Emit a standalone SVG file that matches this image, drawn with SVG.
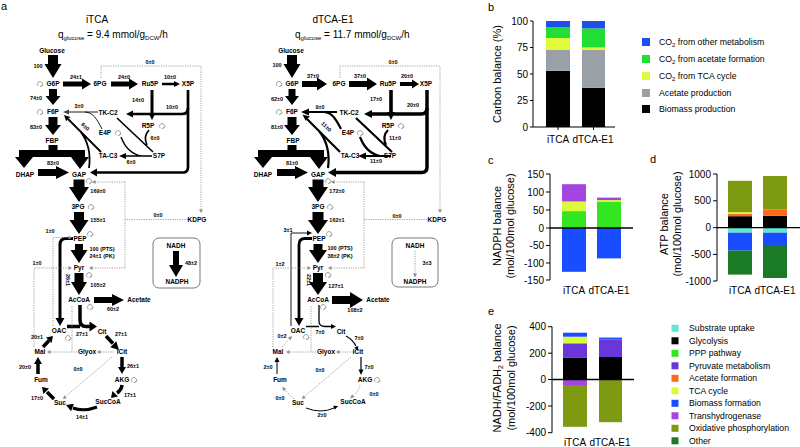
<svg xmlns="http://www.w3.org/2000/svg" width="800" height="447" viewBox="0 0 800 447">
<style>
text{font-family:"Liberation Sans",Arial,sans-serif;fill:#000}
.m{font-size:6.5px;font-weight:bold;text-anchor:middle}
.n{font-size:5.5px;font-weight:bold;text-anchor:middle}
.ttl{font-size:10px}
.k{fill:#000}
.ln{fill:none;stroke:#000}
.dt{fill:none;stroke:#8c8c8c;stroke-width:0.8;stroke-dasharray:1.2 1.2}
.dh{fill:#8c8c8c}
.cy{fill:none;stroke:#666;stroke-width:0.6}
.box{fill:none;stroke:#555;stroke-width:0.8}
.ax{stroke:#000;stroke-width:1;fill:none}
.x0{stroke:#000;stroke-width:1.3;fill:none}
.tk{font-size:10px;text-anchor:end}
.xl{font-size:10px;text-anchor:middle}
.yl{font-size:11px;text-anchor:middle}
.lg{font-size:8.7px}
.pl{font-size:11px}
</style>
<defs>
<g id="cyc" class="cy"><path d="M-1.6,2.2A2.6,2.6 0 1 1 1.6,2.2M1.6,2.2L2.8,0.6M1.6,2.2L0,2.6"/></g>
</defs>
<rect width="800" height="447" fill="#fff"/>
<text class="pl" x="1" y="10">a</text>

<!-- ================= iTCA ================= -->
<g id="itca">
<g id="itca-title"><text class="ttl" x="97" y="23" text-anchor="middle">iTCA</text>
<text class="ttl" x="58" y="38">q<tspan font-size="6" dy="2">glucose</tspan><tspan dy="-2"> = 9.4 mmol/g</tspan><tspan font-size="6" dy="2">DCW</tspan><tspan dy="-2">/h</tspan></text></g>
<g id="itca-connectors">
<polygon class="k" points="48,55 58,55 58,64 61.5,64 53,78 44.5,64 48,64"/>
<polygon class="k" points="49,89 57,89 57,96 60.5,96 53,105 45.5,96 49,96"/>
<polygon class="k" points="48.5,117 57.5,117 57.5,125 61,125 53,135 45,125 48.5,125"/>
<polygon class="k" points="48.5,145 57.5,145 57.5,150 85,150 85,157 89,157 80,169 71,157 33,157 24,168 15,157 19,157 19,150 48.5,150"/>
<polygon class="k" points="38,169 56,169 56,166 69,172.5 56,179 56,176 38,176"/>
<polygon class="k" points="73.5,179.5 84.5,179.5 84.5,187 89,187 79,202 69,187 73.5,187"/>
<polygon class="k" points="74,212 84,212 84,220 88.5,220 79,234 69.5,220 74,220"/>
<polygon class="k" points="75,244 83,244 83,250 87.5,250 79,263 70.5,250 75,250"/>
<polygon class="k" points="74.5,273 83.5,273 83.5,282 87,282 79,295 71,282 74.5,282"/>
<polygon class="k" points="94,297 112,297 112,294 124,300 112,306 112,303 94,303"/>
<polygon class="k" points="63,81.5 82,81.5 82,78.5 91,84 82,89.5 82,86.5 63,86.5"/>
<polygon class="k" points="111,81.5 129,81.5 129,78.5 138,84 129,89.5 129,86.5 111,86.5"/>
<polygon class="k" points="162,82.7 174,82.7 174,81 180,84 174,87 174,85.3 162,85.3"/>
<polygon class="k" points="150.5,90 153.5,90 153.5,113 155.5,113 152,120 148.5,113 150.5,113"/>
<path class="ln" stroke-width="2.7" d="M188,90V167Q188,172.5 183,172.5H96"/>
<polygon class="k" points="90,172.5 97,168.5 97,176.5"/>
<path class="ln" stroke-width="2.7" d="M188,108Q188,114 182,114H132"/>
<polygon class="k" points="126,114 133,110.5 133,117.5"/>
<path class="ln" stroke="#444" stroke-width="0.9" d="M98,112H68M102,129C97,119 93,112.5 85,112"/>
<polygon fill="#444" points="63,112 69,109.5 69,114.5"/>
<path class="ln" stroke-width="1.6" d="M117,118L153,152M149,130Q143,136 147,145"/>
<path class="ln" stroke-width="1.4" d="M152,156H125M121,137Q127,153 141,156"/>
<polygon class="k" points="119,156 126,153 126,159"/>
<path class="ln" stroke-width="1.8" d="M68,119L101,152M89,168Q92,146 80,131"/>
<polygon class="k" points="64,115 70.3,117.1 66.1,121.3"/>
<path class="ln" stroke-width="3" d="M73,238.5H66Q60,238.5 60,245V319"/>
<polygon class="k" points="60,326 55.5,318 64.5,318"/>
<path class="ln" stroke-width="3.5" d="M80,305V320Q80,326.5 86,326.5H91M67,326.5H80"/>
<polygon class="k" points="97,326.5 89.5,321.5 89.5,331.5"/>
<path class="ln" stroke-width="3.5" d="M106,336L113,343.5"/>
<polygon class="k" points="119,350 110.3,347.3 116.3,341.3"/>
<polygon class="k" points="120.25,357 123.75,357 123.75,367 126,367 122,374 118,367 120.25,367"/>
<path class="ln" stroke-width="3.5" d="M122,385Q121.5,390 117,393"/>
<polygon class="k" points="111,398 118,396.6 112.4,391"/>
<path class="ln" stroke-width="3" d="M97,407Q84,412 73,408"/>
<polygon class="k" points="66,405 73.9,403.8 71.1,411.2"/>
<path class="ln" stroke-width="3.5" d="M54,399L47,392"/>
<polygon class="k" points="42,387 49,388.4 43.4,394"/>
<polygon class="k" points="36.25,374 39.75,374 39.75,364 42,364 38,357 34,364 36.25,364"/>
<path class="ln" stroke-width="3.5" d="M43,347L49,340.5"/>
<polygon class="k" points="53,336 51.6,343 46,337.4"/>
<polygon class="k" points="173,251 179,251 179,265 183,265 176,277 169,265 173,265"/>
<path class="dt" d="M101,78V66H201V210M188,219.5H125M125,182V268M125,182H95M125,268H92M53,326V237.5H69M34,347V268H69M72,306V352M114,352H100M77,352H50M112,357L65,397"/>
<polygon class="dh" points="201,213 199,209.5 203,209.5"/>
<polygon class="dh" points="92,182 95.5,180 95.5,184"/>
<polygon class="dh" points="89,268 92.5,266 92.5,270"/>
<polygon class="dh" points="72,237.5 68.5,235.5 68.5,239.5"/>
<polygon class="dh" points="72,268 68.5,266 68.5,270"/>
<polygon class="dh" points="97,352 100.5,350 100.5,354"/>
<polygon class="dh" points="47,352 50.5,350 50.5,354"/>
<polygon class="dh" points="63,399 64.2,395.3 66.8,398.3"/>
</g>
<g id="itca-flux-labels">
<text class="n" x="38" y="68">100</text>
<text class="n" x="76" y="79">24±1</text>
<text class="n" x="124" y="79">24±0</text>
<text class="n" x="170" y="79">10±0</text>
<text class="n" x="150" y="64">0±0</text>
<text class="n" x="36" y="100">74±0</text>
<text class="n" x="79" y="108">3±0</text>
<text class="n" x="138" y="102">14±0</text>
<text class="n" x="172" y="109">10±0</text>
<text class="n" transform="translate(84,128) rotate(45)">6±0</text>
<text class="n" x="155" y="140">6±0</text>
<text class="n" x="36" y="129">83±0</text>
<text class="n" x="131" y="164">6±0</text>
<text class="n" x="53" y="165">83±0</text>
<text class="n" x="98" y="193">169±0</text>
<text class="n" x="158" y="217">0±0</text>
<text class="n" x="98" y="222">155±1</text>
<text class="n" x="50" y="233">1±0</text>
<text class="n" x="102" y="251">100 (PTS)</text>
<text class="n" x="102" y="258">24±1 (PK)</text>
<text class="n" x="37" y="265">1±0</text>
<text class="n" x="191" y="265">48±2</text>
<text class="n" transform="translate(66,280) rotate(90)">26±1</text>
<text class="n" x="98" y="287">105±2</text>
<text class="n" x="113" y="311">60±2</text>
<text class="n" x="82" y="336">27±1</text>
<text class="n" x="121" y="336">27±1</text>
<text class="n" x="37" y="339">20±1</text>
<text class="n" x="133" y="368">26±1</text>
<text class="n" x="78" y="371">0±0</text>
<text class="n" x="25" y="369">20±0</text>
<text class="n" x="130" y="397">17±1</text>
<text class="n" x="37" y="400">17±0</text>
<text class="n" x="82" y="419">14±1</text>
</g>
<g id="itca-Glucose"><text class="m" x="52" y="53.3">Glucose</text></g>
<g id="itca-G6P"><text class="m" x="53" y="86.3">G6P</text><use href="#cyc" x="40" y="84"/></g>
<g id="itca-6PG"><text class="m" x="100" y="86.3">6PG</text></g>
<g id="itca-Ru5P"><text class="m" x="150" y="86.3">Ru5P</text></g>
<g id="itca-X5P"><text class="m" x="188" y="86.3">X5P</text></g>
<g id="itca-F6P"><text class="m" x="53" y="114.3">F6P</text><use href="#cyc" x="40" y="112"/></g>
<g id="itca-TKC2"><text class="m" x="108" y="115.3">TK-C2</text></g>
<g id="itca-R5P"><text class="m" x="148" y="128.3">R5P</text><use href="#cyc" x="162" y="126"/></g>
<g id="itca-E4P"><text class="m" x="105" y="135.3">E4P</text><use href="#cyc" x="118" y="133"/></g>
<g id="itca-FBP"><text class="m" x="52" y="143.3">FBP</text></g>
<g id="itca-TAC3"><text class="m" x="108" y="158.3">TA-C3</text></g>
<g id="itca-S7P"><text class="m" x="159" y="158.3">S7P</text></g>
<g id="itca-DHAP"><text class="m" x="25" y="176.8">DHAP</text></g>
<g id="itca-GAP"><text class="m" x="79" y="177.3">GAP</text><use href="#cyc" x="89" y="181"/></g>
<g id="itca-3PG"><text class="m" x="78" y="209.3">3PG</text><use href="#cyc" x="91" y="207"/></g>
<g id="itca-KDPG"><text class="m" x="197" y="222.3">KDPG</text></g>
<g id="itca-PEP"><text class="m" x="80" y="241.3">PEP</text><use href="#cyc" x="90" y="234"/></g>
<g id="itca-Pyr"><text class="m" x="79" y="270.3">Pyr</text><use href="#cyc" x="89" y="275"/></g>
<g id="itca-NADH"><rect class="box" x="153" y="238" width="47" height="50" rx="6"/><text class="m" x="176" y="248.3">NADH</text><text class="m" x="177" y="284.3">NADPH</text></g>
<g id="itca-AcCoA"><text class="m" x="79" y="302.3">AcCoA</text><use href="#cyc" x="90" y="307"/></g>
<g id="itca-Acetate"><text class="m" x="139" y="302.3">Acetate</text></g>
<g id="itca-OAC"><text class="m" x="59" y="333.3">OAC</text><use href="#cyc" x="68" y="338"/></g>
<g id="itca-Cit"><text class="m" x="102" y="334.3">Cit</text></g>
<g id="itca-Mal"><text class="m" x="40" y="354.3">Mal</text></g>
<g id="itca-Glyox"><text class="m" x="87" y="354.3">Glyox</text></g>
<g id="itca-ICit"><text class="m" x="122" y="354.3">ICit</text></g>
<g id="itca-Fum"><text class="m" x="41" y="382.3">Fum</text></g>
<g id="itca-AKG"><text class="m" x="122" y="382.3">AKG</text><use href="#cyc" x="134" y="380"/></g>
<g id="itca-Suc"><text class="m" x="60" y="405.3">Suc</text></g>
<g id="itca-SucCoA"><text class="m" x="108" y="404.3">SucCoA</text></g>
</g>

<!-- ================= dTCA-E1 ================= -->
<g id="dtca" transform="translate(239,0)">
<g id="dtca-title"><text class="ttl" x="94" y="23" text-anchor="middle">dTCA-E1</text>
<text class="ttl" x="56" y="38">q<tspan font-size="6" dy="2">glucose</tspan><tspan dy="-2"> = 11.7 mmol/g</tspan><tspan font-size="6" dy="2">DCW</tspan><tspan dy="-2">/h</tspan></text></g>
<g id="dtca-connectors">
<polygon class="k" points="48,55 58,55 58,64 61.5,64 53,78 44.5,64 48,64"/>
<polygon class="k" points="49.5,89 56.5,89 56.5,96 60,96 53,105 46,96 49.5,96"/>
<polygon class="k" points="48.5,117 57.5,117 57.5,125 61,125 53,135 45,125 48.5,125"/>
<polygon class="k" points="48.5,145 57.5,145 57.5,150 85,150 85,157 89,157 80,169 71,157 33,157 24,168 15,157 19,157 19,150 48.5,150"/>
<polygon class="k" points="38,169 56,169 56,166 69,172.5 56,179 56,176 38,176"/>
<polygon class="k" points="73.5,179.5 84.5,179.5 84.5,187 89,187 79,202 69,187 73.5,187"/>
<polygon class="k" points="73.5,212 84.5,212 84.5,220 89,220 79,234 69,220 73.5,220"/>
<polygon class="k" points="74.5,244 83.5,244 83.5,250 88,250 79,263 70,250 74.5,250"/>
<polygon class="k" points="74,273 84,273 84,282 88,282 79,295 70,282 74,282"/>
<polygon class="k" points="93,296 111,296 111,292 124,300 111,308 111,304 93,304"/>
<polygon class="k" points="63,81 78,81 78,77.5 88,84 78,90.5 78,87 63,87"/>
<polygon class="k" points="110,81 128,81 128,77.5 138,84 128,90.5 128,87 110,87"/>
<polygon class="k" points="161,82 173,82 173,79.5 180,84 173,88.5 173,86 161,86"/>
<polygon class="k" points="150.2,90 153.8,90 153.8,112 156,112 152,120 148,112 150.2,112"/>
<path class="ln" stroke-width="3.5" d="M188,90V167Q188,172.5 183,172.5H96"/>
<polygon class="k" points="89,172.5 97,168 97,177"/>
<path class="ln" stroke-width="3.5" d="M188,108Q188,114 182,114H132"/>
<polygon class="k" points="125,114 133,110 133,118"/>
<path class="ln" stroke-width="2.2" d="M98,112H69M102,129C97,119 93,112.5 85,112"/>
<polygon class="k" points="62,112 70,108.5 70,115.5"/>
<path class="ln" stroke-width="2.2" d="M117,118L153,152M149,130Q143,136 147,145"/>
<path class="ln" stroke-width="2.2" d="M152,156H126M121,137Q127,153 141,156"/>
<polygon class="k" points="119,156 127,152.5 127,159.5"/>
<path class="ln" stroke-width="2.2" d="M68,119L101,152M89,168Q92,146 80,131"/>
<polygon class="k" points="63.5,114.5 70.8,116.6 66.6,120.8"/>
<path class="ln" stroke-width="2.8" d="M73,238.5H66Q60,238.5 60,245V319"/>
<polygon class="k" points="60,326 55.5,318 64.5,318"/>
<path class="ln" stroke-width="0.9" d="M52,326V233H69"/>
<polygon class="k" points="73,233 68,230.5 68,235.5"/>
<path class="ln" stroke-width="1.3" d="M80,305V321Q80,326.5 86,326.5H93M67,326.5H80"/>
<polygon class="k" points="97,326.5 92,324 92,329"/>
<path class="ln" stroke-width="1.2" d="M107,336Q114,340 117,346"/>
<polygon class="k" points="119,351 119.3,346 115.3,347.6"/>
<path class="ln" stroke-width="1.2" d="M122,357V370"/>
<polygon class="k" points="122,375 119.5,369.5 124.5,369.5"/>
<path class="ln" stroke-width="1" d="M67,408Q82,414 95,408"/>
<polygon class="k" points="99,406 94.1,405.8 95.9,409.8"/>
<path class="ln" stroke-width="1" d="M38,374V361"/>
<polygon class="k" points="38,357 35.5,362 40.5,362"/>
<path class="dt" d="M101,78V66H201V210M188,219.5H125M125,182V268M125,182H95M125,268H92M34,347V268H69M72,306V352M114,352H100M77,352H50M112,357L65,397M121,385Q120,391 114,396M55,399L46,390M43,347L50,339.5M176,251V274"/>
<polygon class="dh" points="201,213 199,209.5 203,209.5"/>
<polygon class="dh" points="92,182 95.5,180 95.5,184"/>
<polygon class="dh" points="89,268 92.5,266 92.5,270"/>
<polygon class="dh" points="72,268 68.5,266 68.5,270"/>
<polygon class="dh" points="97,352 100.5,350 100.5,354"/>
<polygon class="dh" points="47,352 50.5,350 50.5,354"/>
<polygon class="dh" points="63,399 64.2,395.3 66.8,398.3"/>
<polygon class="dh" points="111,398.5 113,394.5 115.5,397"/>
<polygon class="dh" points="43,387 47.2,388.5 44.5,391.2"/>
<polygon class="dh" points="53,336 51.8,340.3 48.8,337.5"/>
<polygon class="dh" points="176,277.5 174,273.5 178,273.5"/>
</g>
<g id="dtca-flux-labels">
<text class="n" x="38" y="67">100</text>
<text class="n" x="74" y="78">37±0</text>
<text class="n" x="121" y="78">37±0</text>
<text class="n" x="168" y="78">20±0</text>
<text class="n" x="154" y="64">0±0</text>
<text class="n" x="38" y="101">62±0</text>
<text class="n" x="81" y="109">9±0</text>
<text class="n" x="137" y="101">17±0</text>
<text class="n" x="174" y="107">20±0</text>
<text class="n" transform="translate(86,128) rotate(45)">11±0</text>
<text class="n" x="156" y="140">11±0</text>
<text class="n" x="38" y="129">81±0</text>
<text class="n" x="137" y="163">11±0</text>
<text class="n" x="53" y="165">81±0</text>
<text class="n" x="98" y="193">172±0</text>
<text class="n" x="158" y="218">0±0</text>
<text class="n" x="98" y="222">162±1</text>
<text class="n" x="49" y="232">3±1</text>
<text class="n" x="101" y="250">100 (PTS)</text>
<text class="n" x="101" y="258">38±2 (PK)</text>
<text class="n" x="41" y="266">1±2</text>
<text class="n" x="188" y="265">3±3</text>
<text class="n" transform="translate(68,280) rotate(90)">22±1</text>
<text class="n" x="97" y="288">127±1</text>
<text class="n" x="116" y="312">108±2</text>
<text class="n" x="81" y="334">7±0</text>
<text class="n" x="120" y="340">7±0</text>
<text class="n" x="43" y="338">0±2</text>
<text class="n" x="130" y="369">7±0</text>
<text class="n" x="81" y="372">0±0</text>
<text class="n" x="29" y="369">2±0</text>
<text class="n" x="135" y="396">0±0</text>
<text class="n" x="41" y="400">0±0</text>
<text class="n" x="83" y="417">2±0</text>
</g>
<g id="dtca-Glucose"><text class="m" x="52" y="53.3">Glucose</text></g>
<g id="dtca-G6P"><text class="m" x="53" y="86.3">G6P</text><use href="#cyc" x="40" y="84"/></g>
<g id="dtca-6PG"><text class="m" x="100" y="86.3">6PG</text></g>
<g id="dtca-Ru5P"><text class="m" x="149" y="86.3">Ru5P</text></g>
<g id="dtca-X5P"><text class="m" x="187" y="86.3">X5P</text></g>
<g id="dtca-F6P"><text class="m" x="53" y="114.3">F6P</text><use href="#cyc" x="40" y="112"/></g>
<g id="dtca-TKC2"><text class="m" x="110" y="115.3">TK-C2</text></g>
<g id="dtca-R5P"><text class="m" x="149" y="128.3">R5P</text><use href="#cyc" x="162" y="126"/></g>
<g id="dtca-E4P"><text class="m" x="109" y="135.3">E4P</text><use href="#cyc" x="121" y="133"/></g>
<g id="dtca-FBP"><text class="m" x="54" y="143.3">FBP</text></g>
<g id="dtca-TAC3"><text class="m" x="111" y="158.3">TA-C3</text></g>
<g id="dtca-S7P"><text class="m" x="151" y="158.3">S7P</text></g>
<g id="dtca-DHAP"><text class="m" x="24" y="176.8">DHAP</text></g>
<g id="dtca-GAP"><text class="m" x="79" y="177.3">GAP</text><use href="#cyc" x="89" y="181"/></g>
<g id="dtca-3PG"><text class="m" x="79" y="209.3">3PG</text><use href="#cyc" x="91" y="207"/></g>
<g id="dtca-KDPG"><text class="m" x="198" y="222.3">KDPG</text></g>
<g id="dtca-PEP"><text class="m" x="80" y="241.3">PEP</text><use href="#cyc" x="90" y="234"/></g>
<g id="dtca-Pyr"><text class="m" x="79" y="270.3">Pyr</text><use href="#cyc" x="89" y="275"/></g>
<g id="dtca-NADH"><rect class="box" x="153" y="238" width="46" height="49" rx="6"/><text class="m" x="176" y="248.3">NADH</text><text class="m" x="176" y="284.3">NADPH</text></g>
<g id="dtca-AcCoA"><text class="m" x="79" y="302.3">AcCoA</text><use href="#cyc" x="84" y="307"/></g>
<g id="dtca-Acetate"><text class="m" x="139" y="302.3">Acetate</text></g>
<g id="dtca-OAC"><text class="m" x="59" y="333.3">OAC</text><use href="#cyc" x="67" y="337"/></g>
<g id="dtca-Cit"><text class="m" x="102" y="334.3">Cit</text></g>
<g id="dtca-Mal"><text class="m" x="39" y="354.3">Mal</text></g>
<g id="dtca-Glyox"><text class="m" x="87" y="354.3">Glyox</text></g>
<g id="dtca-ICit"><text class="m" x="119" y="354.3">ICit</text></g>
<g id="dtca-Fum"><text class="m" x="41" y="382.3">Fum</text></g>
<g id="dtca-AKG"><text class="m" x="126" y="382.3">AKG</text><use href="#cyc" x="138" y="380"/></g>
<g id="dtca-Suc"><text class="m" x="59" y="405.3">Suc</text></g>
<g id="dtca-SucCoA"><text class="m" x="114" y="404.3">SucCoA</text></g>
</g>

<!-- ================= panel b ================= -->
<g id="panel-b">
<text class="pl" x="488" y="11">b</text>
<text class="yl" transform="translate(501,74) rotate(-90)">Carbon balance (%)</text>
<rect x="546" y="70.8" width="24" height="56.2" fill="#000"/>
<rect x="546" y="49.6" width="24" height="21.2" fill="#9aa1a6"/>
<rect x="546" y="38" width="24" height="11.6" fill="#e2fa3c"/>
<rect x="546" y="27.4" width="24" height="10.6" fill="#22dd33"/>
<rect x="546" y="21" width="24" height="6.4" fill="#1f4fe8"/>
<rect x="582" y="87.8" width="23" height="39.2" fill="#000"/>
<rect x="582" y="49.6" width="23" height="38.2" fill="#9aa1a6"/>
<rect x="582" y="47.5" width="23" height="2.1" fill="#e2fa3c"/>
<rect x="582" y="28.4" width="23" height="19.1" fill="#22dd33"/>
<rect x="582" y="21" width="23" height="7.4" fill="#1f4fe8"/>
<path class="ax" d="M533,21V127H615M530,21H533M530,47.5H533M530,74H533M530,100.5H533M530,127H533M558,127V130M593.5,127V130"/>
<text class="tk" x="528" y="24.5">100</text>
<text class="tk" x="528" y="51">75</text>
<text class="tk" x="528" y="77.5">50</text>
<text class="tk" x="528" y="104">25</text>
<text class="tk" x="528" y="130.5">0</text>
<text class="xl" x="558" y="143">iTCA</text>
<text class="xl" x="593" y="143">dTCA-E1</text>
<g id="legend-b">
<rect x="642" y="38" width="8" height="8" fill="#1f4fe8"/>
<text class="lg" x="659" y="45.2">CO<tspan font-size="6" dy="2">2</tspan><tspan dy="-2"> from other metabolism</tspan></text>
<rect x="642" y="55" width="8" height="8" fill="#22dd33"/>
<text class="lg" x="659" y="62.2">CO<tspan font-size="6" dy="2">2</tspan><tspan dy="-2"> from acetate formation</tspan></text>
<rect x="642" y="72" width="8" height="8" fill="#e2fa3c"/>
<text class="lg" x="659" y="79.2">CO<tspan font-size="6" dy="2">2</tspan><tspan dy="-2"> from TCA cycle</tspan></text>
<rect x="642" y="89" width="8" height="8" fill="#9aa1a6"/>
<text class="lg" x="659" y="96.2">Acetate production</text>
<rect x="642" y="105" width="8" height="8" fill="#000"/>
<text class="lg" x="659" y="112.2">Biomass production</text>
</g>
</g>

<!-- ================= panel c ================= -->
<g id="panel-c">
<text class="pl" x="488" y="164">c</text>
<text class="yl" transform="translate(501,226) rotate(-90)">NADPH balance</text>
<text class="yl" transform="translate(514,226) rotate(-90)">(mol/100mol glucose)</text>
<rect x="562" y="211.1" width="24" height="16.9" fill="#33e622"/>
<rect x="562" y="201.5" width="24" height="9.6" fill="#dcfc3a"/>
<rect x="562" y="184.2" width="24" height="17.3" fill="#a545e0"/>
<rect x="562" y="228" width="24" height="43.8" fill="#1a4dff"/>
<rect x="597" y="201.5" width="24" height="26.5" fill="#33e622"/>
<rect x="597" y="200.1" width="24" height="1.4" fill="#dcfc3a"/>
<rect x="597" y="197.6" width="24" height="2.5" fill="#a545e0"/>
<rect x="597" y="228" width="24" height="30.4" fill="#1a4dff"/>
<path class="ax" d="M550,174V280M546,174H550M546,192H550M546,210H550M546,228H550M546,245.5H550M546,263H550M546,280H550"/>
<path class="x0" d="M550,228H633"/>
<text class="tk" x="544" y="177.5">150</text>
<text class="tk" x="544" y="195.5">100</text>
<text class="tk" x="544" y="213.5">50</text>
<text class="tk" x="544" y="231.5">0</text>
<text class="tk" x="544" y="249">-50</text>
<text class="tk" x="544" y="266.5">-100</text>
<text class="tk" x="544" y="283.5">-150</text>
<text class="xl" x="574" y="294">iTCA</text>
<text class="xl" x="609" y="294">dTCA-E1</text>
</g>

<!-- ================= panel d ================= -->
<g id="panel-d">
<text class="pl" x="650" y="163">d</text>
<text class="yl" transform="translate(668,224) rotate(-90)">ATP balance</text>
<text class="yl" transform="translate(681,224) rotate(-90)">(mol/100mol glucose)</text>
<rect x="728" y="216.2" width="24" height="11.5" fill="#000"/>
<rect x="728" y="213.6" width="24" height="2.6" fill="#ff6a1a"/>
<rect x="728" y="212.2" width="24" height="1.4" fill="#dcfc3a"/>
<rect x="728" y="180.8" width="24" height="31.4" fill="#7d9a12"/>
<rect x="728" y="227.7" width="24" height="5" fill="#5fe8cf"/>
<rect x="728" y="232.7" width="24" height="17.9" fill="#1a4dff"/>
<rect x="728" y="250.6" width="24" height="24" fill="#1b7a25"/>
<rect x="763" y="215.7" width="24" height="12" fill="#000"/>
<rect x="763" y="209.3" width="24" height="6.4" fill="#ff6a1a"/>
<rect x="763" y="176" width="24" height="33.3" fill="#7d9a12"/>
<rect x="763" y="227.7" width="24" height="5" fill="#5fe8cf"/>
<rect x="763" y="232.7" width="24" height="12.3" fill="#1a4dff"/>
<rect x="763" y="245" width="24" height="33" fill="#1b7a25"/>
<path class="ax" d="M717,174V281M713,174H717M713,200.8H717M713,227.7H717M713,254.4H717M713,281H717"/>
<path class="x0" d="M717,227.7H800"/>
<text class="tk" x="711" y="177.5">1000</text>
<text class="tk" x="711" y="204.3">500</text>
<text class="tk" x="711" y="231.2">0</text>
<text class="tk" x="711" y="258">-500</text>
<text class="tk" x="711" y="284.5">-1000</text>
<text class="xl" x="740" y="294">iTCA</text>
<text class="xl" x="775" y="294">dTCA-E1</text>
</g>

<!-- ================= panel e ================= -->
<g id="panel-e">
<text class="pl" x="488" y="315">e</text>
<text class="yl" transform="translate(501,378) rotate(-90)">NADH/FADH<tspan font-size="7" dy="2">2</tspan><tspan dy="-2"> balance</tspan></text>
<text class="yl" transform="translate(515,378) rotate(-90)">(mol/100mol glucose)</text>
<rect x="563" y="357.9" width="24" height="21.6" fill="#000"/>
<rect x="563" y="343.3" width="24" height="14.6" fill="#6a35d9"/>
<rect x="563" y="336.7" width="24" height="6.6" fill="#dcfc3a"/>
<rect x="563" y="332.7" width="24" height="4" fill="#1a4dff"/>
<rect x="563" y="379.5" width="24" height="6.4" fill="#a545e0"/>
<rect x="563" y="385.9" width="24" height="40.9" fill="#7d9a12"/>
<rect x="599" y="357" width="23" height="22.5" fill="#000"/>
<rect x="599" y="339.4" width="23" height="17.6" fill="#6a35d9"/>
<rect x="599" y="337.6" width="23" height="1.8" fill="#1a4dff"/>
<rect x="599" y="379.5" width="23" height="42.7" fill="#7d9a12"/>
<path class="ax" d="M552,326.7V432.7M548,326.7H552M548,353.2H552M548,379.5H552M548,406H552M548,432.7H552"/>
<path class="x0" d="M552,379.5H634"/>
<text class="tk" x="546" y="330.2">400</text>
<text class="tk" x="546" y="356.7">200</text>
<text class="tk" x="546" y="383">0</text>
<text class="tk" x="546" y="409.5">-200</text>
<text class="tk" x="546" y="436.2">-400</text>
<text class="xl" x="575" y="446">iTCA</text>
<text class="xl" x="610" y="446">dTCA-E1</text>
<g id="legend-e">
<rect x="671.5" y="324.8" width="7" height="7" fill="#5fe8cf"/><text class="lg" x="689" y="331.3">Substrate uptake</text>
<rect x="671.5" y="337.3" width="7" height="7" fill="#000"/><text class="lg" x="689" y="343.8">Glycolysis</text>
<rect x="671.5" y="349.8" width="7" height="7" fill="#33e622"/><text class="lg" x="689" y="356.3">PPP pathway</text>
<rect x="671.5" y="362.3" width="7" height="7" fill="#6a35d9"/><text class="lg" x="689" y="368.8">Pyruvate metabolism</text>
<rect x="671.5" y="374.8" width="7" height="7" fill="#ff6a1a"/><text class="lg" x="689" y="381.3">Acetate formation</text>
<rect x="671.5" y="387.3" width="7" height="7" fill="#dcfc3a"/><text class="lg" x="689" y="393.8">TCA cycle</text>
<rect x="671.5" y="399.8" width="7" height="7" fill="#1a4dff"/><text class="lg" x="689" y="406.3">Biomass formation</text>
<rect x="671.5" y="412.3" width="7" height="7" fill="#a545e0"/><text class="lg" x="689" y="418.8">Transhydrogenase</text>
<rect x="671.5" y="424.8" width="7" height="7" fill="#7d9a12"/><text class="lg" x="689" y="431.3">Oxidative phosphorylation</text>
<rect x="671.5" y="437.3" width="7" height="7" fill="#1b7a25"/><text class="lg" x="689" y="443.8">Other</text>
</g>
</g>
</svg>
